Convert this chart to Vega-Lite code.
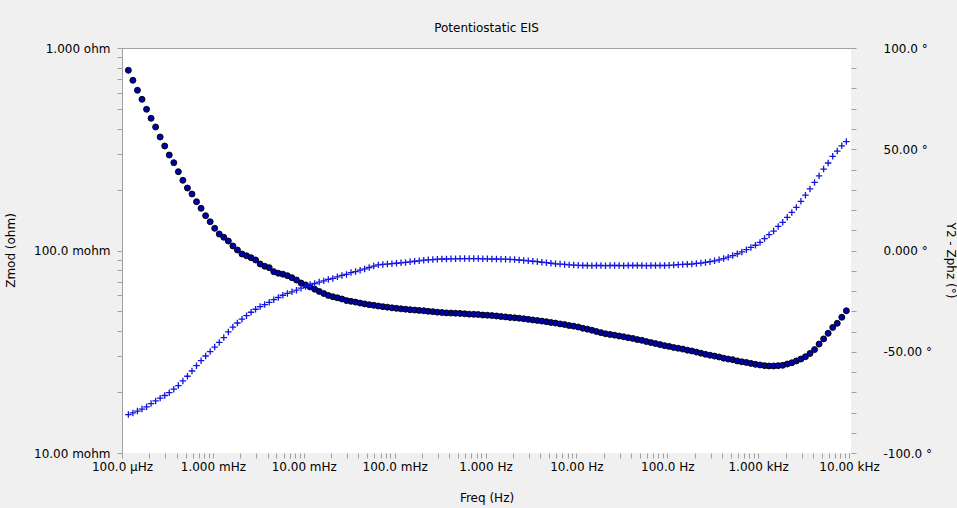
{
"$schema": "https://vega.github.io/schema/vega-lite/v6.json",
"width": 729,
"height": 405,
"autosize": {"type": "none"},
"padding": {"left": 122, "top": 48, "right": 106, "bottom": 55},
"background": "#f0f0f0",
"config": {
  "view": {"fill": "white", "stroke": null},
  "font": "DejaVu Sans",
  "axis": {"grid": false, "labelFont": "DejaVu Sans", "labelFontSize": 12, "labelColor": "#000000", "titleFont": "DejaVu Sans", "titleFontSize": 12, "titleFontWeight": "normal", "titleColor": "#000000", "tickColor": "#a0a0a0", "tickSize": 5, "domainColor": "#a0a0a0", "labelOverlap": false, "labelBound": false, "labelFlush": false}
},
"title": {"text": "Potentiostatic EIS", "fontSize": 12, "fontWeight": "normal", "color": "#000000", "font": "DejaVu Sans", "offset": 7},
"data": {"values": [
{"f":0.0001175,"z":0.776,"p":-81.0},{"f":0.0001318,"z":0.6926,"p":-80.2},{"f":0.0001479,"z":0.6182,"p":-79.3},{"f":0.000166,"z":0.558,"p":-78.3},{"f":0.0001862,"z":0.498,"p":-77.2},{"f":0.0002089,"z":0.4496,"p":-75.6},{"f":0.0002344,"z":0.4073,"p":-74.3},{"f":0.000263,"z":0.3635,"p":-72.9},{"f":0.0002951,"z":0.3281,"p":-71.6},{"f":0.0003311,"z":0.2962,"p":-70.2},
{"f":0.0003715,"z":0.2714,"p":-68.5},{"f":0.0004169,"z":0.245,"p":-66.7},{"f":0.0004677,"z":0.2222,"p":-64.4},{"f":0.0005248,"z":0.2035,"p":-62.1},{"f":0.0005888,"z":0.1901,"p":-59.5},{"f":0.0006607,"z":0.1742,"p":-56.9},{"f":0.0007413,"z":0.1616,"p":-54.4},{"f":0.0008318,"z":0.1486,"p":-52.1},{"f":0.0009333,"z":0.1387,"p":-49.9},
{"f":0.001047,"z":0.1287,"p":-47.7},{"f":0.001175,"z":0.1206,"p":-45.4},{"f":0.001318,"z":0.1162,"p":-43.0},{"f":0.001479,"z":0.1114,"p":-40.2},{"f":0.00166,"z":0.1053,"p":-37.8},{"f":0.001862,"z":0.1006,"p":-35.8},{"f":0.002089,"z":0.0961,"p":-33.9},{"f":0.002344,"z":0.0942,"p":-32.2},{"f":0.00263,"z":0.0921,"p":-30.5},{"f":0.002951,"z":0.0898,"p":-29.0},
{"f":0.003311,"z":0.0858,"p":-27.7},{"f":0.003715,"z":0.0836,"p":-26.7},{"f":0.004169,"z":0.0823,"p":-25.6},{"f":0.004677,"z":0.0786,"p":-24.3},{"f":0.005248,"z":0.0772,"p":-23.2},{"f":0.005888,"z":0.0764,"p":-22.1},{"f":0.006607,"z":0.0751,"p":-21.2},{"f":0.007413,"z":0.0734,"p":-20.4},{"f":0.008318,"z":0.0715,"p":-19.6},{"f":0.009333,"z":0.0691,"p":-18.6},
{"f":0.01047,"z":0.0676,"p":-17.8},{"f":0.01175,"z":0.0661,"p":-16.8},{"f":0.01318,"z":0.0644,"p":-16.3},{"f":0.01479,"z":0.0628,"p":-15.6},{"f":0.0166,"z":0.0613,"p":-15.0},{"f":0.01862,"z":0.06,"p":-14.3},{"f":0.02089,"z":0.0591,"p":-13.8},{"f":0.02344,"z":0.0584,"p":-13.0},{"f":0.0263,"z":0.0576,"p":-12.3},{"f":0.02951,"z":0.0566,"p":-11.8},
{"f":0.03311,"z":0.0561,"p":-10.9},{"f":0.03715,"z":0.0556,"p":-10.4},{"f":0.04169,"z":0.055,"p":-9.7},{"f":0.04677,"z":0.0545,"p":-9.1},{"f":0.05248,"z":0.054,"p":-8.4},{"f":0.05888,"z":0.0536,"p":-7.7},{"f":0.06607,"z":0.0532,"p":-7.1},{"f":0.07413,"z":0.0528,"p":-6.9},{"f":0.08318,"z":0.0525,"p":-6.7},{"f":0.09333,"z":0.0521,"p":-6.5},
{"f":0.1047,"z":0.0518,"p":-6.3},{"f":0.1175,"z":0.0515,"p":-6.1},{"f":0.1318,"z":0.0513,"p":-5.9},{"f":0.1479,"z":0.051,"p":-5.6},{"f":0.166,"z":0.0508,"p":-5.3},{"f":0.1862,"z":0.0506,"p":-5.1},{"f":0.2089,"z":0.0504,"p":-4.8},{"f":0.2344,"z":0.0501,"p":-4.6},{"f":0.263,"z":0.0499,"p":-4.5},{"f":0.2951,"z":0.0496,"p":-4.3},
{"f":0.3311,"z":0.0494,"p":-4.2},{"f":0.3715,"z":0.0492,"p":-4.2},{"f":0.4169,"z":0.0491,"p":-4.1},{"f":0.4677,"z":0.049,"p":-4.1},{"f":0.5248,"z":0.0489,"p":-4.0},{"f":0.5888,"z":0.0487,"p":-4.0},{"f":0.6607,"z":0.0485,"p":-4.0},{"f":0.7413,"z":0.0484,"p":-4.0},{"f":0.8318,"z":0.0483,"p":-4.0},{"f":0.9333,"z":0.048,"p":-4.1},
{"f":1.047,"z":0.0479,"p":-4.1},{"f":1.175,"z":0.0477,"p":-4.2},{"f":1.318,"z":0.0475,"p":-4.2},{"f":1.479,"z":0.0472,"p":-4.3},{"f":1.66,"z":0.047,"p":-4.3},{"f":1.862,"z":0.0467,"p":-4.4},{"f":2.089,"z":0.0465,"p":-4.5},{"f":2.344,"z":0.0463,"p":-4.7},{"f":2.63,"z":0.046,"p":-4.9},{"f":2.951,"z":0.0457,"p":-5.1},
{"f":3.311,"z":0.0454,"p":-5.3},{"f":3.715,"z":0.0451,"p":-5.5},{"f":4.169,"z":0.0448,"p":-5.8},{"f":4.677,"z":0.0445,"p":-6.0},{"f":5.248,"z":0.0441,"p":-6.3},{"f":5.888,"z":0.0438,"p":-6.6},{"f":6.607,"z":0.0434,"p":-6.7},{"f":7.413,"z":0.0431,"p":-6.9},{"f":8.318,"z":0.0426,"p":-7.1},{"f":9.333,"z":0.0423,"p":-7.2},
{"f":10.47,"z":0.0419,"p":-7.3},{"f":11.75,"z":0.0413,"p":-7.4},{"f":13.18,"z":0.0409,"p":-7.4},{"f":14.79,"z":0.0404,"p":-7.5},{"f":16.6,"z":0.0398,"p":-7.4},{"f":18.62,"z":0.0393,"p":-7.4},{"f":20.89,"z":0.0388,"p":-7.5},{"f":23.44,"z":0.0385,"p":-7.4},{"f":26.3,"z":0.0382,"p":-7.4},{"f":29.51,"z":0.0378,"p":-7.4},
{"f":33.11,"z":0.0375,"p":-7.5},{"f":37.15,"z":0.0371,"p":-7.4},{"f":41.69,"z":0.0368,"p":-7.4},{"f":46.77,"z":0.0363,"p":-7.4},{"f":52.48,"z":0.036,"p":-7.4},{"f":58.88,"z":0.0355,"p":-7.5},{"f":66.07,"z":0.0351,"p":-7.4},{"f":74.13,"z":0.0347,"p":-7.4},{"f":83.18,"z":0.0343,"p":-7.4},{"f":93.33,"z":0.0339,"p":-7.4},
{"f":104.7,"z":0.0336,"p":-7.3},{"f":117.5,"z":0.0332,"p":-7.2},{"f":131.8,"z":0.0329,"p":-7.0},{"f":147.9,"z":0.0326,"p":-6.9},{"f":166,"z":0.0322,"p":-6.8},{"f":186.2,"z":0.0319,"p":-6.7},{"f":208.9,"z":0.0315,"p":-6.4},{"f":234.4,"z":0.0311,"p":-6.2},{"f":263,"z":0.0307,"p":-5.9},{"f":295.1,"z":0.0304,"p":-5.5},
{"f":331.1,"z":0.0301,"p":-5.1},{"f":371.5,"z":0.0298,"p":-4.6},{"f":416.9,"z":0.0294,"p":-4.0},{"f":467.7,"z":0.0291,"p":-3.3},{"f":524.8,"z":0.0289,"p":-2.5},{"f":588.8,"z":0.0285,"p":-1.6},{"f":660.7,"z":0.0282,"p":-0.7},{"f":741.3,"z":0.028,"p":0.4},{"f":831.8,"z":0.0277,"p":1.5},{"f":933.3,"z":0.0274,"p":2.6},
{"f":1047,"z":0.0272,"p":4.0},{"f":1175,"z":0.027,"p":5.9},{"f":1318,"z":0.0269,"p":7.8},{"f":1479,"z":0.0269,"p":9.6},{"f":1660,"z":0.027,"p":11.9},{"f":1862,"z":0.0271,"p":13.9},{"f":2089,"z":0.0275,"p":16.4},{"f":2344,"z":0.0279,"p":18.8},{"f":2630,"z":0.0285,"p":21.3},{"f":2951,"z":0.0291,"p":24.3},
{"f":3311,"z":0.0299,"p":27.3},{"f":3715,"z":0.031,"p":30.4},{"f":4169,"z":0.0324,"p":33.6},{"f":4677,"z":0.0345,"p":36.9},{"f":5248,"z":0.0366,"p":40.2},{"f":5888,"z":0.039,"p":43.2},{"f":6607,"z":0.0417,"p":46.5},{"f":7413,"z":0.0437,"p":49.1},{"f":8318,"z":0.0468,"p":51.7},{"f":9333,"z":0.0504,"p":53.8}
]},
"layer": [
  {
    "mark": {"type": "point", "shape": "circle", "filled": true, "fill": "#0000a8", "stroke": "#000000", "strokeWidth": 0.9, "size": 36, "opacity": 1},
    "encoding": {
      "x": {"field": "f", "type": "quantitative", "scale": {"type": "log", "domain": [0.0001, 10500], "nice": false},
        "axis": {"orient": "bottom", "domain": false, "title": "Freq (Hz)", "titleY": 44, "titleBaseline": "middle", "labelPadding": 3,
          "values": [0.0001,0.0002,0.0003,0.0004,0.0005,0.0006,0.0007,0.0008,0.0009,0.001,0.002,0.003,0.004,0.005,0.006,0.007,0.008,0.009,0.01,0.02,0.03,0.04,0.05,0.06,0.07,0.08,0.09,0.1,0.2,0.3,0.4,0.5,0.6,0.7,0.8,0.9,1,2,3,4,5,6,7,8,9,10,20,30,40,50,60,70,80,90,100,200,300,400,500,600,700,800,900,1000,2000,3000,4000,5000,6000,7000,8000,9000,10000],
          "labelExpr": "abs(log(datum.value)/LN10 - round(log(datum.value)/LN10)) < 0.01 ? ['100.0 µHz','1.000 mHz','10.00 mHz','100.0 mHz','1.000 Hz','10.00 Hz','100.0 Hz','1.000 kHz','10.00 kHz'][round(log(datum.value)/LN10)+4] : ''"}},
      "y": {"field": "z", "type": "quantitative", "scale": {"type": "log", "domain": [0.01, 1], "nice": false},
        "axis": {"orient": "left", "domain": true, "title": "Zmod (ohm)", "titleX": -112, "titleY": 202, "titleAngle": 270, "titleBaseline": "middle", "labelPadding": 7,
          "values": [0.01,0.02,0.03,0.04,0.05,0.06,0.07,0.08,0.09,0.1,0.2,0.3,0.4,0.5,0.6,0.7,0.8,0.9,1],
          "labelExpr": "abs(log(datum.value)/LN10 - round(log(datum.value)/LN10)) < 0.01 ? ['10.00 mohm','100.0 mohm','1.000 ohm'][round(log(datum.value)/LN10)+2] : ''"}}
    }
  },
  {
    "mark": {"type": "point", "shape": "M-1,0L1,0M0,-1L0,1", "filled": false, "stroke": "#1414e0", "strokeWidth": 1.3, "size": 42, "opacity": 1},
    "encoding": {
      "x": {"field": "f", "type": "quantitative", "axis": {"orient": "top", "domain": true, "labels": false, "ticks": false, "title": null}},
      "y": {"field": "p", "type": "quantitative", "scale": {"domain": [-100, 100], "nice": false, "zero": false},
        "axis": {"orient": "right", "domain": false, "title": "Y2 - Zphz (°)", "titleX": 99, "titleY": 212, "titleAngle": 90, "titleBaseline": "middle", "labelPadding": 27,
          "values": [-100,-90,-80,-70,-60,-50,-40,-30,-20,-10,0,10,20,30,40,50,60,70,80,90,100],
          "labelExpr": "datum.value % 50 == 0 ? ['-100.0 °','-50.00 °','0.000 °','50.00 °','100.0 °'][round(datum.value/50)+2] : ''"}}
    }
  }
],
"resolve": {"scale": {"y": "independent"}}
}
